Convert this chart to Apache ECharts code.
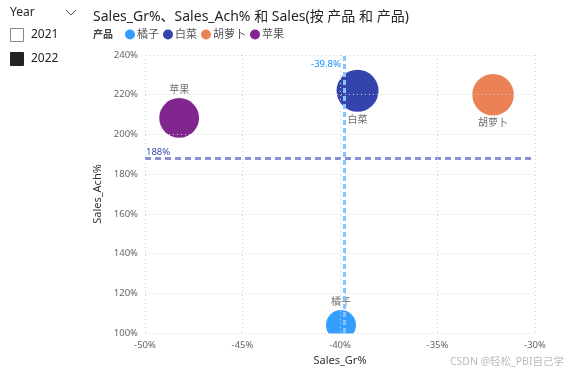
<!DOCTYPE html>
<html><head><meta charset="utf-8">
<script src="https://cdn.jsdelivr.net/npm/echarts@6/dist/echarts.min.js"></script>
<style>html,body{margin:0;padding:0;background:#fff}#c{width:568px;height:374px}</style>
</head><body><div id="c"></div>
<script>
const products = ['橘子','白菜','胡萝卜','苹果'];
const salesGr = [-39.95, -39.1, -32.15, -48.25];
const salesAch = [104, 222, 220, 208.3];
const sales = [1250, 2450, 2400, 2200];
const colors = ['#118DFF','#12239E','#E66C37','#6B007B'];
const labelPos = ['top','bottom','bottom','top'];
const avgGr = -39.8;
const avgAch = 188;
const xTicks = {min:-50, max:-30, interval:5};
const yTicks = {min:100, max:240, interval:20};
const years = ['2021','2022'];

const FONT = "'Segoe UI','Noto Sans','Noto Sans CJK SC',sans-serif";
const maxS = Math.max(...sales);
const G = {left:145, right:33, top:55, bottom:41};

const series = products.map((p,i)=>({
  name:p, type:'scatter', z:2,
  itemStyle:{color:colors[i], opacity:0.85},
  symbolSize: 42*Math.sqrt(sales[i]/maxS),
  label:{show:true, position:labelPos[i], distance:3, formatter:p, color:'#555', fontSize:10, fontFamily:FONT},
  data:[[salesGr[i], salesAch[i], sales[i]]]
}));
series[0].markLine = {
  silent:true, symbol:'none', z:4,
  data:[
    {yAxis:avgAch, lineStyle:{color:'#8A90D6', width:3, type:[6,4]},
     label:{show:true, position:'insideStartTop', distance:1, formatter:avgAch+'%', color:'#3A48B0', fontSize:9.5, fontFamily:FONT}},
    {xAxis:avgGr, lineStyle:{color:'#88C3FF', width:3, type:[5,3]}, label:{show:false}}
  ]
};
series[0].markPoint = {
  silent:true, symbol:'circle', symbolSize:0,
  data:[{coord:[avgGr, yTicks.max], label:{show:true, position:'left', distance:3, offset:[0,9], formatter:avgGr+'%', color:'#118DFF', fontSize:9.5, fontFamily:FONT}}]
};

const chart = echarts.init(document.getElementById('c'));
chart.setOption({
  animation:false,
  textStyle:{fontFamily:FONT},
  title:{text:'Sales_Gr%、Sales_Ach% 和 Sales(按 产品 和 产品)', left:88, top:5,
    textStyle:{fontSize:14, fontWeight:'normal', color:'#252423', fontFamily:FONT}},
  legend:{left:120, top:27, padding:[2,5], icon:'circle', itemWidth:10, itemHeight:10, itemGap:4,
    data:products, textStyle:{fontSize:11, color:'#555', fontFamily:FONT, padding:[0,0,0,-3]}},
  grid:G,
  xAxis:{type:'value', min:xTicks.min, max:xTicks.max, interval:xTicks.interval, z:10,
    name:'Sales_Gr%', nameLocation:'middle', nameGap:21,
    nameTextStyle:{fontSize:11, color:'#333', fontFamily:FONT},
    axisLine:{show:false}, axisTick:{show:false},
    axisLabel:{formatter:v=>v+'%', fontSize:9.5, color:'#666', margin:8, fontFamily:FONT},
    splitLine:{show:true, lineStyle:{color:'#cfcfcf', type:[1,3]}}},
  yAxis:{type:'value', min:yTicks.min, max:yTicks.max, interval:yTicks.interval, z:10,
    name:'Sales_Ach%', nameLocation:'middle', nameGap:40,
    nameTextStyle:{fontSize:11, color:'#333', fontFamily:FONT},
    axisLine:{show:false}, axisTick:{show:false},
    axisLabel:{formatter:v=>v+'%', fontSize:9.5, color:'#666', margin:7, fontFamily:FONT},
    splitLine:{show:true, lineStyle:{color:'#cfcfcf', type:[1,3]}}},
  graphic:[
    {type:'rect', z:5, shape:{x:120, y:374-G.bottom+0.5, width:448, height:20}, style:{fill:'#fff'}},
    {type:'text', left:93, top:30, style:{text:'产品', fill:'#444', font:'bold 10px '+FONT}},
    {type:'text', left:10, top:7, style:{text:'Year', fill:'#252423', font:'12px '+FONT}},
    {type:'polyline', shape:{points:[[66,10],[71,15],[76,10]]}, style:{stroke:'#555', lineWidth:1, fill:null}},
    {type:'rect', shape:{x:10.5, y:28.5, width:13, height:13}, style:{fill:'#fff', stroke:'#888', lineWidth:1}},
    {type:'text', left:31, top:29, style:{text:years[0], fill:'#252423', font:'12px '+FONT}},
    {type:'rect', shape:{x:10.5, y:52.5, width:13, height:13}, style:{fill:'#222', stroke:'#222', lineWidth:1}},
    {type:'text', left:31, top:53, style:{text:years[1], fill:'#252423', font:'12px '+FONT}},
    {type:'text', right:4, top:357, style:{text:'CSDN @轻松_PBI自己学', fill:'#bbb', font:'10.5px '+FONT}}
  ],
  series
});
</script></body></html>
